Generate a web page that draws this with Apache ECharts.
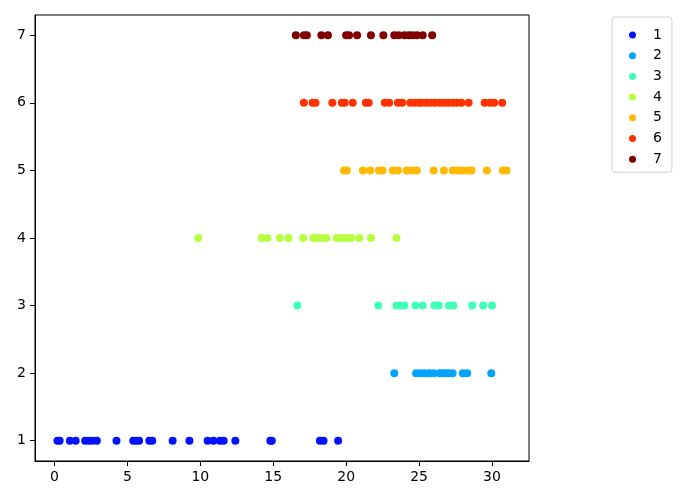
<!DOCTYPE html>
<html>
<head>
<meta charset="utf-8">
<script src="https://cdn.jsdelivr.net/npm/echarts@6/dist/echarts.min.js"></script>
<style>html,body{margin:0;padding:0;background:#fff}#c{width:700px;height:500px}</style>
</head>
<body>
<div id="c"></div>
<script>
const names = ['1','2','3','4','5','6','7'];
const colors = ['#0012ff','#00a4ff','#41ffb6','#b6ff41','#ffb900','#ff3200','#800000'];
const x1 = [0.2,0.35,1.05,1.45,2.1,2.35,2.6,2.9,4.25,5.4,5.6,5.8,6.5,6.7,8.1,9.25,10.5,10.9,11.35,11.6,12.4,14.8,14.9,18.2,18.45,19.45];
const x2 = [23.3,24.8,25.1,25.4,25.7,26.0,26.4,26.6,26.8,27.0,27.3,28.0,28.3,29.95];
const x3 = [16.65,22.2,23.45,23.7,24.0,24.75,25.25,26.05,26.35,27.05,27.35,28.65,29.4,30.0];
const x4 = [9.85,14.2,14.6,15.45,16.05,17.05,17.75,18.0,18.3,18.65,19.35,19.7,20.0,20.35,20.9,21.7,23.45];
const x5 = [19.85,20.05,21.15,21.65,22.25,22.5,23.2,23.55,24.15,24.55,24.85,26.0,26.7,27.3,27.65,28.0,28.35,28.6,29.65,30.75,31.0];
const x6 = [17.1,17.7,17.9,19.05,19.7,19.9,20.45,21.35,21.55,22.65,22.95,23.55,23.85,24.4,24.7,25.0,25.2,25.5,25.8,26.1,26.4,26.7,27.0,27.3,27.6,27.9,28.4,29.5,29.85,30.15,30.7];
const x7 = [16.55,17.1,17.3,18.3,18.75,20.0,20.2,20.75,21.7,22.55,23.3,23.6,24.0,24.3,24.55,24.85,25.25,25.9];
const xs = [x1,x2,x3,x4,x5,x6,x7];
const xTicks = [0,5,10,15,20,25,30];
const yTicks = [1,2,3,4,5,6,7];

const font = 'DejaVu Sans';
const chart = echarts.init(document.getElementById('c'), null, {renderer:'canvas'});
chart.setOption({
  animation:false,
  backgroundColor:'#fff',
  grid:{left:35,right:171,top:15,bottom:39,show:true,borderColor:'#000',borderWidth:1,backgroundColor:'transparent'},
  xAxis:{
    type:'value',min:-1.34,max:32.54,
    axisLine:{show:true,onZero:false,lineStyle:{color:'#000'}},
    axisTick:{show:true,inside:false,length:5,customValues:xTicks,lineStyle:{color:'#000'}},
    axisLabel:{customValues:xTicks,margin:9,color:'#000',fontFamily:font,fontSize:14},
    splitLine:{show:false}
  },
  yAxis:{
    type:'value',min:0.7,max:7.3,
    axisLine:{show:true,onZero:false,lineStyle:{color:'#000'}},
    axisTick:{show:true,inside:false,length:5,customValues:yTicks,lineStyle:{color:'#000'}},
    axisLabel:{customValues:yTicks,margin:9,color:'#000',fontFamily:font,fontSize:14},
    splitLine:{show:false}
  },
  legend:{
    orient:'vertical',left:612,top:17,
    data:names,
    icon:'circle',itemWidth:7,itemHeight:7,itemGap:6.7,
    padding:[11,10,6,17],
    borderColor:'#d0d0d0',borderWidth:1,borderRadius:3,backgroundColor:'#fff',
    textStyle:{fontFamily:font,fontSize:14,color:'#000',padding:[0,0,0,12],lineHeight:14}
  },
  series: xs.map((arr,i)=>({
    name:names[i],type:'scatter',
    symbol:'circle',symbolSize:8,
    itemStyle:{color:colors[i],opacity:1},
    data:arr.map(v=>[v,yTicks[i]])
  }))
});
</script>
</body>
</html>
